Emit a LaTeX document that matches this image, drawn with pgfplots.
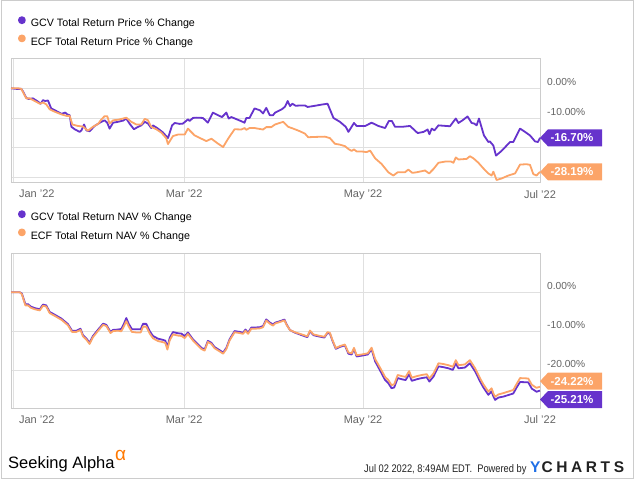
\documentclass[border=0pt]{standalone}
\usepackage{fontspec}
\setmainfont{Liberation Sans}
\usepackage{graphicx}
\usepackage{pgfplots}
\pgfplotsset{compat=1.18}

\definecolor{gcvc}{RGB}{102,51,204}
\definecolor{ecfc}{RGB}{252,164,104}
\definecolor{gridc}{RGB}{224,224,224}
\definecolor{framec}{RGB}{204,204,204}
\definecolor{tickc}{RGB}{100,100,100}
\definecolor{ychblue}{RGB}{30,110,230}
\definecolor{saorange}{RGB}{255,120,0}
\definecolor{darktxt}{RGB}{34,34,34}

\newcommand{\callout}[5]{%
  \fill[#1] ([yshift=#4]axis cs:#2,#3) -- ++(8pt,8.5pt) -- ++(54pt,0pt) -- ++(0pt,-17pt) -- ++(-54pt,0pt) -- cycle;
  \node[text=white, font=\bfseries\fontsize{11.5}{12}\selectfont, inner sep=0pt] at ([xshift=32pt,yshift=#4]axis cs:#2,#3) {#5};
}

\pgfplotsset{
  ychart/.style={
    scale only axis, width=529pt,
    xmin=0, xmax=180.3,
    axis line style={draw=framec, line width=0.8pt},
    grid=major, major grid style={draw=gridc, line width=0.8pt},
    tick style={draw=none}, major tick length=0pt,
    xtick={0.8,59,120,180.3},
    xticklabels={\hspace*{47pt}Jan '22, Mar '22, May '22, Jul '22},
    xticklabel style={font=\fontsize{11}{12}\selectfont, text=tickc, inner sep=0pt, anchor=north, yshift=-7.5pt},
    yticklabel pos=right,
    yticklabel style={font=\fontsize{10.2}{12}\selectfont, text=tickc, inner sep=0pt, anchor=base west, xshift=7pt, yshift=2.6pt},
    clip=false,
    legend cell align=left,
    legend image code/.code={\fill[##1] (0pt,3.8pt) circle (3pt);},
    legend style={draw=none, fill=none, inner sep=0pt, outer sep=0pt,
      font=\fontsize{10.7}{12}\selectfont, row sep=5.5pt, column sep=5pt,
      nodes={inner sep=0pt, text height=8pt, text depth=2pt},
      anchor=north west, at={(axis description cs:0,1)}, xshift=7pt},
  }
}

\begin{document}
\begin{tikzpicture}[x=1pt,y=1pt]
\draw[framec, line width=1pt] (1pt,2pt) rectangle (633pt,480.5pt);

% ---------- Top: total return price ----------
\begin{axis}[ychart, at={(11pt,298.5pt)}, anchor=south west, height=124.2pt,
  ymin=-31.75, ymax=10.1,
  ytick={0,-10,-20,-30}, yticklabels={0.00\%,-10.00\%,,},
  legend style={yshift=42pt}]
\addplot[color=gcvc, line width=1.8pt, line join=round] coordinates {
(0,0) (1.8,-0.2) (3.5,-0.2) (4.1,-1.1) (5.2,-3.2) (6.0,-3.6) (7.5,-3.4) (9.2,-4.5) (10.1,-5.2) (10.9,-4.0) (11.7,-4.3) (12.6,-4.1) (13.7,-6.8) (15.5,-7.7) (17.2,-8.6) (18.5,-8.2) (19.2,-8.8) (20.0,-9.1) (20.6,-13.0) (21.7,-13.8) (23.4,-14.7) (24.0,-14.2) (24.9,-12.2) (25.7,-14.2) (26.8,-14.5) (28.5,-12.7) (30.8,-11.3) (31.9,-10.8) (32.8,-11.6) (33.6,-13.6) (34.8,-11.6) (36.5,-11.3) (38.2,-10.9) (39.3,-10.2) (40.4,-11.9) (41.9,-13.8) (43.3,-13.0) (44.4,-12.5) (45.6,-11.3) (46.7,-11.9) (47.8,-13.4) (48.4,-12.5) (50.1,-13.6) (51.8,-14.9) (53.5,-16.8) (54.9,-12.5) (55.8,-11.7) (57.5,-12.0) (58.6,-11.9) (60.3,-10.5) (60.9,-11.0) (62.0,-10.0) (63.2,-9.9) (65.4,-10.0) (67.1,-11.6) (68.8,-8.2) (70.6,-9.1) (71.9,-9.7) (73.4,-8.2) (74.2,-10.2) (75.1,-9.7) (76.8,-10.4) (78.5,-11.1) (79.6,-11.6) (80.2,-10.0) (81.3,-10.0) (83.0,-6.8) (84.8,-7.4) (85.9,-8.5) (87.0,-6.6) (88.2,-9.1) (89.3,-9.1) (90.0,-8.2) (92.3,-7.1) (93.4,-6.2) (94.3,-4.3) (95.1,-6.0) (95.9,-5.2) (97.0,-5.9) (98.5,-5.8) (100.2,-5.8) (101.1,-6.3) (103.6,-5.9) (105.9,-5.5) (107.9,-5.2) (109.9,-10.0) (112.1,-11.3) (114.1,-13.0) (115.0,-14.7) (116.9,-11.7) (117.8,-12.7) (120.7,-12.7) (122.9,-11.6) (125.2,-12.7) (127.5,-13.4) (128.8,-11.0) (129.8,-11.0) (130.9,-13.0) (133.2,-13.0) (136.0,-12.7) (138.6,-15.1) (140.6,-14.7) (142.0,-13.9) (142.6,-15.5) (143.4,-13.6) (144.3,-14.2) (145.7,-12.5) (149.6,-12.8) (151.6,-10.2) (152.5,-11.7) (153.9,-10.8) (155.6,-9.5) (157.0,-11.7) (157.9,-11.9) (158.7,-12.5) (159.5,-10.2) (161.2,-15.9) (162.7,-18.1) (163.2,-17.9) (164.4,-19.3) (165.3,-22.7) (167.2,-21.1) (170.1,-18.1) (171.2,-18.1) (173.5,-13.6) (175.2,-14.7) (176.9,-15.9) (178.6,-17.9) (179.6,-18.1) (180.3,-16.70)
};
\addplot[color=ecfc, line width=1.8pt, line join=round] coordinates {
(0,0) (2.4,0) (3.5,-0.2) (5.2,-3.4) (6.4,-3.4) (8.1,-4.3) (9.8,-5.2) (10.9,-4.8) (12.0,-5.4) (13.2,-7.1) (14.9,-7.9) (17.2,-8.8) (18.9,-9.3) (20.0,-9.3) (20.9,-12.2) (22.8,-12.7) (24.5,-12.9) (26.2,-14.3) (27.9,-13.0) (29.7,-12.0) (30.8,-10.5) (31.9,-9.4) (32.8,-9.4) (33.6,-11.9) (34.8,-10.8) (36.5,-10.6) (38.2,-10.2) (39.3,-9.9) (41.0,-11.3) (42.7,-12.2) (44.4,-12.2) (45.6,-10.3) (46.7,-10.8) (47.8,-13.0) (49.5,-13.8) (51.2,-14.9) (52.9,-16.8) (53.5,-18.8) (55.2,-16.1) (56.9,-15.6) (59.2,-15.6) (60.3,-13.6) (62.6,-15.9) (64.9,-17.0) (66.6,-17.8) (68.3,-17.0) (70.6,-18.7) (72.3,-19.8) (74.0,-17.0) (76.2,-13.8) (78.5,-13.9) (79.6,-13.4) (80.2,-14.0) (81.3,-13.4) (83.0,-13.4) (85.9,-13.9) (87.0,-13.1) (88.7,-13.1) (90.0,-12.2) (92.8,-11.3) (94.5,-13.0) (96.2,-13.6) (98.5,-14.5) (100.2,-15.3) (101.3,-16.5) (103.6,-16.4) (107.0,-16.3) (108.7,-16.8) (110.4,-18.7) (112.1,-19.0) (113.8,-19.5) (115.2,-20.6) (116.1,-21.1) (116.9,-20.6) (117.8,-21.3) (119.5,-21.3) (121.2,-21.5) (122.4,-21.0) (124.1,-23.6) (126.3,-25.5) (128.6,-28.3) (130.3,-29.4) (131.8,-28.3) (134.3,-28.3) (135.4,-27.4) (136.8,-28.5) (138.3,-28.3) (141.1,-27.7) (142.5,-28.7) (144.0,-27.2) (145.7,-25.1) (148.0,-24.7) (150.0,-24.7) (150.8,-25.1) (151.6,-23.3) (152.5,-24.0) (155.3,-23.8) (156.4,-22.9) (157.6,-23.6) (159.3,-25.1) (161.0,-27.0) (162.7,-28.7) (163.8,-29.4) (164.4,-28.1) (165.5,-30.9) (167.2,-30.4) (169.5,-29.4) (171.8,-28.7) (173.5,-25.7) (175.7,-25.6) (176.9,-25.8) (178.0,-28.9) (179.1,-29.4) (180.3,-28.19)
};
\legend{GCV Total Return Price \% Change, ECF Total Return Price \% Change}
\callout{gcvc}{180.3}{-16.70}{0pt}{-16.70\%}
\callout{ecfc}{180.3}{-28.19}{0pt}{-28.19\%}
\end{axis}

% ---------- Bottom: total return NAV ----------
\begin{axis}[ychart, at={(11pt,73pt)}, anchor=south west, height=154.7pt,
  ymin=-29.67, ymax=10,
  ytick={0,-10,-20}, yticklabels={0.00\%,-10.00\%,-20.00\%},
  legend style={yshift=43pt}]
\addplot[color=gcvc, line width=1.8pt, line join=round] coordinates {
(0,0) (3.0,0) (3.7,-0.3) (4.9,-3.05) (5.8,-3.05) (6.7,-3.65) (8.1,-4.05) (9.8,-4.35) (10.9,-3.15) (12.0,-3.35) (13.2,-5.05) (14.9,-5.75) (17.2,-6.75) (19.4,-8.15) (20.8,-9.85) (22.3,-9.85) (23.7,-9.35) (24.5,-10.95) (25.7,-11.85) (26.8,-12.95) (27.9,-11.25) (29.7,-9.55) (31.4,-8.05) (32.5,-8.35) (33.9,-10.15) (34.8,-9.65) (36.5,-9.55) (37.6,-9.4) (38.5,-8.05) (39.3,-6.6) (40.1,-8.05) (41.2,-9.45) (42.7,-9.5) (44.2,-9.5) (45.0,-8.1) (46.1,-8.1) (47.3,-10.0) (48.4,-11.2) (50.1,-11.9) (51.8,-12.2) (52.6,-12.4) (53.3,-14.1) (54.1,-11.7) (55.2,-10.2) (56.9,-10.5) (58.1,-10.6) (59.2,-11.25) (60.3,-10.3) (62.0,-12.05) (63.7,-13.35) (64.9,-14.25) (66.0,-14.65) (67.1,-12.45) (68.3,-12.95) (69.4,-14.05) (71.1,-14.85) (72.3,-15.45) (73.4,-14.25) (74.5,-12.05) (76.2,-9.95) (77.9,-10.15) (79.1,-10.35) (79.9,-9.55) (80.8,-10.35) (81.9,-9.05) (83.0,-9.05) (84.8,-8.95) (85.9,-8.65) (87.0,-6.95) (88.2,-7.75) (89.3,-8.25) (90.0,-7.8) (91.7,-7.4) (93.2,-7.0) (94.0,-8.35) (95.1,-9.7) (96.8,-10.35) (99.1,-11.0) (101.0,-11.5) (101.9,-10.0) (103.1,-11.0) (104.8,-11.3) (106.8,-11.6) (107.9,-10.4) (108.7,-10.6) (109.5,-12.3) (110.7,-14.5) (112.1,-14.0) (113.8,-13.6) (115.0,-15.75) (116.1,-15.95) (116.9,-14.55) (117.8,-16.45) (119.5,-16.25) (121.6,-15.95) (122.9,-14.6) (124.1,-17.7) (125.8,-20.05) (127.5,-22.5) (128.6,-23.3) (129.7,-24.6) (130.6,-24.4) (131.8,-22.0) (133.2,-22.3) (134.5,-22.5) (135.7,-21.0) (136.6,-22.7) (138.3,-22.3) (140.0,-22.0) (141.7,-21.8) (142.6,-22.9) (144.0,-21.6) (145.7,-19.0) (147.4,-19.2) (149.1,-19.5) (150.6,-19.9) (151.6,-18.2) (152.5,-19.5) (154.7,-19.3) (156.4,-18.2) (158.2,-20.3) (159.9,-22.9) (161.0,-24.4) (162.7,-26.3) (163.8,-25.4) (164.4,-26.7) (165.0,-27.6) (166.1,-27.0) (167.8,-26.75) (169.5,-26.35) (171.2,-25.95) (172.3,-24.45) (173.5,-23.0) (176.3,-23.1) (177.5,-24.7) (179.1,-25.5) (180.3,-25.21)
};
\addplot[color=ecfc, line width=1.8pt, line join=round] coordinates {
(0,0) (3.0,0) (3.7,-0.5) (4.9,-3.35) (5.8,-3.35) (6.7,-3.95) (8.1,-4.35) (9.8,-4.65) (10.9,-3.45) (12.0,-3.65) (13.2,-5.35) (14.9,-6.05) (17.2,-7.05) (19.4,-8.45) (20.8,-10.15) (22.3,-10.15) (23.7,-9.65) (24.5,-11.25) (25.7,-12.15) (26.8,-13.25) (27.9,-11.55) (29.7,-9.85) (31.4,-8.35) (32.5,-8.65) (33.9,-10.45) (34.8,-9.95) (36.5,-9.85) (37.6,-10.0) (38.5,-8.7) (39.3,-7.4) (40.1,-8.75) (41.2,-10.15) (42.7,-10.3) (44.2,-10.3) (45.0,-8.8) (46.1,-8.8) (47.3,-10.6) (48.4,-11.8) (50.1,-12.5) (51.8,-12.8) (52.6,-13.0) (53.3,-14.7) (54.1,-12.3) (55.2,-10.8) (56.9,-11.1) (58.1,-11.2) (59.2,-11.75) (60.3,-10.7) (62.0,-12.35) (63.7,-13.65) (64.9,-14.55) (66.0,-14.95) (67.1,-12.75) (68.3,-13.25) (69.4,-14.35) (71.1,-15.15) (72.3,-15.75) (73.4,-14.55) (74.5,-12.35) (76.2,-10.25) (77.9,-10.45) (79.1,-10.65) (79.9,-9.85) (80.8,-10.65) (81.9,-9.35) (83.0,-9.35) (84.8,-9.25) (85.9,-8.95) (87.0,-7.25) (88.2,-8.05) (89.3,-8.55) (90.0,-8.0) (91.7,-7.6) (93.2,-7.2) (94.0,-8.45) (95.1,-9.7) (96.8,-10.25) (99.1,-10.8) (101.0,-11.3) (101.9,-9.8) (103.1,-10.8) (104.8,-11.1) (106.8,-11.4) (107.9,-10.2) (108.7,-10.4) (109.5,-12.1) (110.7,-14.3) (112.1,-13.8) (113.8,-13.4) (115.0,-15.45) (116.1,-15.65) (116.9,-14.25) (117.8,-16.15) (119.5,-15.95) (121.6,-15.65) (122.9,-14.2) (124.1,-17.1) (125.8,-19.35) (127.5,-21.7) (128.6,-22.5) (129.7,-23.8) (130.6,-23.6) (131.8,-21.2) (133.2,-21.5) (134.5,-21.7) (135.7,-20.2) (136.6,-21.9) (138.3,-21.5) (140.0,-21.2) (141.7,-21.0) (142.6,-22.1) (144.0,-20.8) (145.7,-18.2) (147.4,-18.4) (149.1,-18.7) (150.6,-19.1) (151.6,-17.4) (152.5,-18.7) (154.7,-18.5) (156.4,-17.4) (158.2,-19.5) (159.9,-22.1) (161.0,-23.6) (162.7,-25.5) (163.8,-24.6) (164.4,-25.9) (165.0,-26.8) (166.1,-26.2) (167.8,-25.85) (169.5,-25.45) (171.2,-25.05) (172.3,-23.55) (173.5,-22.0) (176.3,-22.1) (177.5,-23.7) (179.1,-24.5) (180.3,-24.22)
};
\legend{GCV Total Return NAV \% Change, ECF Total Return NAV \% Change}
\callout{ecfc}{180.3}{-24.22}{5.6pt}{-24.22\%}
\callout{gcvc}{180.3}{-25.21}{-8.9pt}{-25.21\%}
\end{axis}

% ---------- Footer ----------
\node[anchor=base west, inner sep=0pt] at (8pt,12pt) {\fontsize{16.5}{18}\selectfont Seeking Alpha};
\node[anchor=base west, inner sep=0pt, text=saorange] at (115pt,20pt) {\fontsize{19}{20}\selectfont α};
\node[anchor=base west, inner sep=0pt, text=darktxt] at (364pt,8.7pt) {\scalebox{0.845}[1]{\fontsize{11}{12}\selectfont Jul 02 2022, 8:49AM EDT.\ \ Powered by}};
\node[anchor=base west, inner sep=0pt, text=darktxt] at (530pt,8.3pt) {\fontsize{15.5}{16}\selectfont\bfseries\textcolor{ychblue}{Y}\kern1pt C\kern3.6pt H\kern3.6pt A\kern3.6pt R\kern3.6pt T\kern3.6pt S};

\pgfresetboundingbox
\useasboundingbox (0pt,0pt) rectangle (635pt,481pt);
\end{tikzpicture}
\end{document}
